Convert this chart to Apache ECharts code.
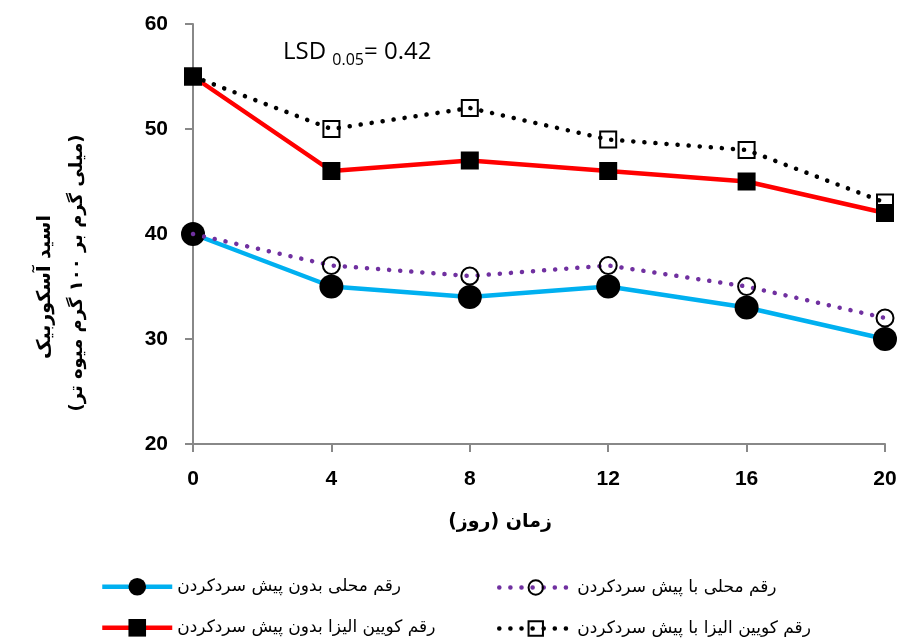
<!DOCTYPE html>
<html><head><meta charset="utf-8">
<script src="https://cdn.jsdelivr.net/npm/echarts@6/dist/echarts.min.js"></script>
<style>html,body{margin:0;padding:0;background:#fff}#c{width:900px;height:640px}</style>
</head><body><div id="c"></div>
<script>
var days = [0, 4, 8, 12, 16, 20];
var localNoPre = [40, 35, 34, 35, 33, 30];
var quinNoPre = [55, 46, 47, 46, 45, 42];
var localPre = [40, 37, 36, 37, 35, 32];
var quinPre = [55, 50, 52, 49, 48, 43];
var names = ['رقم محلی بدون پیش سردکردن', 'رقم کویین الیزا بدون پیش سردکردن', 'رقم محلی با پیش سردکردن', 'رقم کویین الیزا با پیش سردکردن'];
var xTicks = [0, 4, 8, 12, 16, 20];
var yTicks = [20, 30, 40, 50, 60];

function pairs(v){ return days.map(function(d,i){return [d, v[i]];}); }
var arabicFont = "'DejaVu Sans', sans-serif";
var legendLine = {width: 'inherit', type: 'inherit', cap: 'inherit', color: 'inherit'};
function leg(name, left, top, w, h){
  return {left: left, top: top, padding: 0, orient: 'horizontal', itemWidth: w, itemHeight: h,
    lineStyle: legendLine, data: [name], textStyle: {fontSize: 17, color: '#000', fontFamily: arabicFont}};
}
var chart = echarts.init(document.getElementById('c'));
chart.setOption({
  animation: false,
  backgroundColor: '#fff',
  grid: {left: 193, right: 15, top: 24, bottom: 196},
  xAxis: {
    type: 'value', min: xTicks[0], max: xTicks[xTicks.length-1], interval: 4,
    splitLine: {show: false},
    axisLine: {lineStyle: {color: '#888', width: 2}},
    axisTick: {show: true, length: 8, lineStyle: {color: '#888', width: 2}},
    axisLabel: {color: '#000', fontSize: 21, fontWeight: 'bold', fontFamily: "'Liberation Sans', Arial", margin: 25}
  },
  yAxis: {
    type: 'value', min: yTicks[0], max: yTicks[yTicks.length-1], interval: 10,
    splitLine: {show: false},
    axisLine: {show: true, lineStyle: {color: '#888', width: 2}},
    axisTick: {show: true, length: 8, lineStyle: {color: '#888', width: 2}},
    axisLabel: {color: '#000', fontSize: 21, fontWeight: 'bold', fontFamily: "'Liberation Sans', Arial", margin: 25}
  },
  legend: [
    leg(names[0], 100, 578, 70, 22),
    leg(names[1], 100, 619, 70, 22),
    leg(names[2], 497, 579, 73, 18),
    leg(names[3], 497, 620, 73, 18)
  ],
  graphic: [
    {type: 'text', left: 283, top: 40, style: {
      text: '{a|LSD }{b|0.05}{a|= 0.42}',
      rich: {a: {fontSize: 24, fontFamily: "'Open Sans', sans-serif", fill: '#000'},
             b: {fontSize: 16, fontFamily: "'Open Sans', sans-serif", fill: '#000', padding: [16, 0, 0, 0]}}
    }},
    {type: 'text', x: 45, y: 287, rotation: Math.PI/2, style: {
      text: 'اسید آسکوربیک', fontSize: 19, fontWeight: 'bold', fontFamily: arabicFont, fill: '#000',
      align: 'center', verticalAlign: 'middle'}},
    {type: 'text', x: 77, y: 273, rotation: Math.PI/2, style: {
      text: '(میلی گرم بر ۱۰۰ گرم میوه تر)', fontSize: 18, fontWeight: 'bold', fontFamily: arabicFont, fill: '#000',
      align: 'center', verticalAlign: 'middle'}},
    {type: 'text', x: 500, y: 522, style: {
      text: 'زمان (روز)', fontSize: 19, fontWeight: 'bold', fontFamily: arabicFont, fill: '#000',
      align: 'center', verticalAlign: 'middle'}}
  ],
  series: [
    {name: names[0], type: 'line', data: pairs(localNoPre), symbol: 'circle', symbolSize: 24,
     lineStyle: {color: '#00b0f0', width: 4.5}, itemStyle: {color: '#000'}, z: 2},
    {name: names[1], type: 'line', data: pairs(quinNoPre), symbol: 'rect', symbolSize: 18,
     lineStyle: {color: '#ff0000', width: 4.5}, itemStyle: {color: '#000'}, z: 2},
    {name: names[2], type: 'line', data: pairs(localPre), symbol: 'circle', symbolSize: 17,
     lineStyle: {color: '#7030a0', width: 4.5, type: [0.1, 11], cap: 'round'},
     itemStyle: {color: 'rgba(255,255,255,0)', borderColor: '#000', borderWidth: 2}, z: 3},
    {name: names[3], type: 'line', data: pairs(quinPre), symbol: 'rect', symbolSize: 16,
     lineStyle: {color: '#000', width: 4.5, type: [0.1, 11], cap: 'round'},
     itemStyle: {color: 'rgba(255,255,255,0)', borderColor: '#000', borderWidth: 2}, z: 3}
  ]
});
</script></body></html>
